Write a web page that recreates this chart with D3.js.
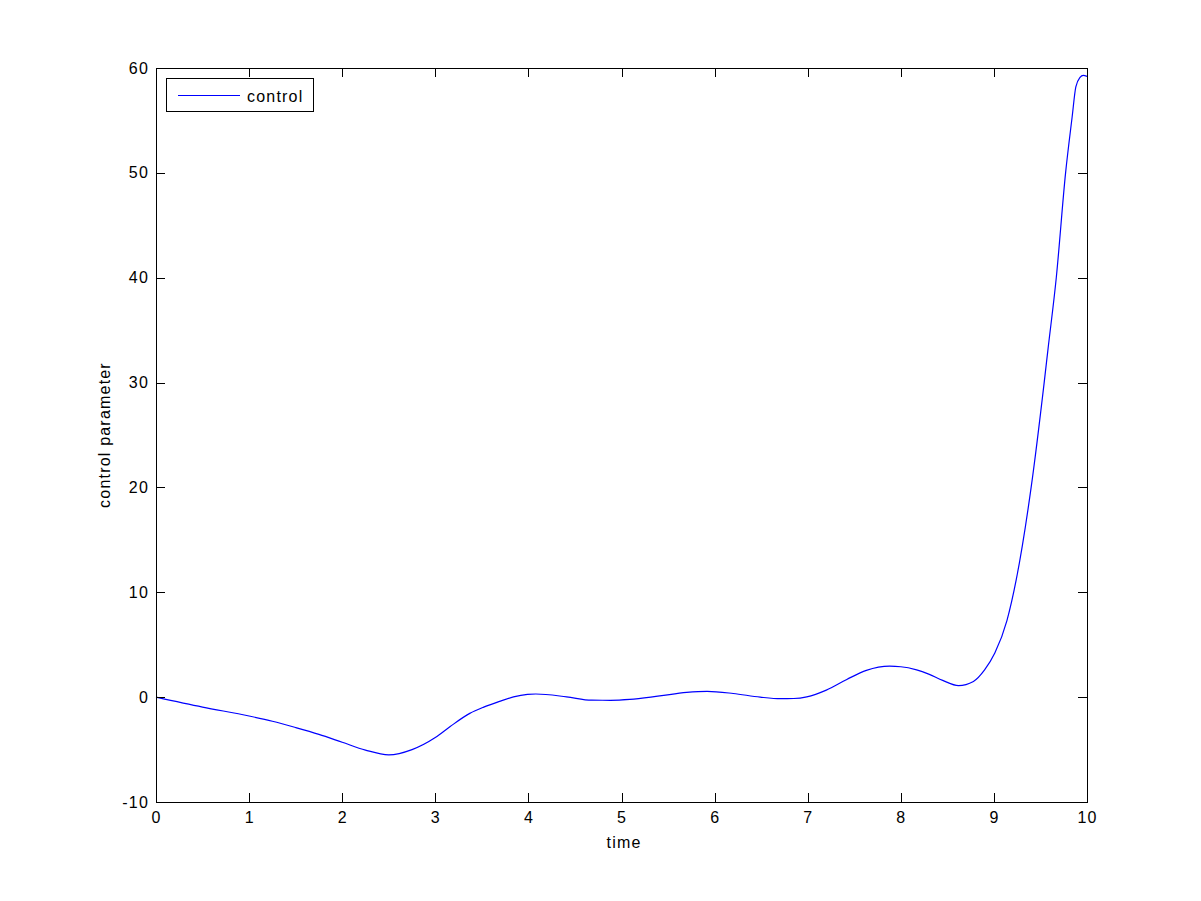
<!DOCTYPE html>
<html>
<head>
<meta charset="utf-8">
<script src="https://cdn.jsdelivr.net/npm/d3@7"></script>
<style>
  body { margin: 0; background: #fff; }
  svg { display: block; }
  text { font-family: "Liberation Sans", Arial, sans-serif; font-size: 16px; letter-spacing: 1.2px; fill: #000; }
</style>
</head>
<body>
<div id="chart"></div>
<script>
// values
const times = [0, 0.5, 1.0, 1.25, 1.5, 1.75, 2.0, 2.25, 2.5, 2.75, 3.0, 3.16, 3.37, 3.52, 3.69, 3.84, 3.99, 4.08, 4.41, 4.68, 4.88, 5.09, 5.41, 5.70, 5.92, 6.20, 6.49, 6.71, 6.85, 6.99, 7.20, 7.42, 7.63, 7.88, 8.0, 8.17, 8.30, 8.45, 8.62, 8.78, 8.90, 9.01, 9.14, 9.24, 9.40, 9.54, 9.58, 9.67, 9.77, 9.84, 9.88, 9.925, 9.96, 10.0];
const control = [0, -0.95, -1.8, -2.3, -2.9, -3.55, -4.3, -5.05, -5.5, -5.0, -3.85, -2.8, -1.55, -0.95, -0.4, 0.02, 0.26, 0.3, 0.03, -0.29, -0.3, -0.22, 0.12, 0.45, 0.55, 0.35, 0.0, -0.15, -0.13, 0.03, 0.67, 1.69, 2.55, 2.95, 2.9, 2.6, 2.2, 1.6, 1.1, 1.5, 2.6, 4.2, 7.3, 11.2, 20, 30, 33.1, 40, 50, 55.3, 58.2, 59.1, 59.3, 59.2];
const xTicks = [0, 1, 2, 3, 4, 5, 6, 7, 8, 9, 10];
const yTicks = [-10, 0, 10, 20, 30, 40, 50, 60];

const W = 1201, H = 901;
const plot = { left: 156, top: 68, right: 1087, bottom: 802 };
const tickLen = 9;

const svg = d3.select("#chart").append("svg")
    .attr("width", W)
    .attr("height", H);

const x = d3.scaleLinear().domain([0, 10]).range([plot.left, plot.right]);
const y = d3.scaleLinear().domain([-10, 60]).range([plot.bottom, plot.top]);

const data = times.map((t, i) => ({ t: t, v: control[i] }));

// curve
const line = d3.line()
    .x(d => x(d.t))
    .y(d => y(d.v))
    .curve(d3.curveMonotoneX);

svg.append("path")
    .datum(data)
    .attr("fill", "none")
    .attr("stroke", "#0000ff")
    .attr("stroke-width", 1.2)
    .attr("d", line);

// box
svg.append("rect")
    .attr("x", plot.left + 0.5)
    .attr("y", plot.top + 0.5)
    .attr("width", plot.right - plot.left)
    .attr("height", plot.bottom - plot.top)
    .attr("fill", "none")
    .attr("stroke", "#000")
    .attr("stroke-width", 1);

// ticks on all four sides, pointing inward
const ticks = svg.append("g").attr("stroke", "#000").attr("stroke-width", 1);
xTicks.forEach(t => {
    const px = Math.round(x(t)) + 0.5;
    ticks.append("line").attr("x1", px).attr("x2", px)
        .attr("y1", plot.bottom).attr("y2", plot.bottom - tickLen);
    ticks.append("line").attr("x1", px).attr("x2", px)
        .attr("y1", plot.top).attr("y2", plot.top + tickLen);
});
yTicks.forEach(v => {
    const py = Math.round(y(v)) + 0.5;
    ticks.append("line").attr("x1", plot.left).attr("x2", plot.left + tickLen)
        .attr("y1", py).attr("y2", py);
    ticks.append("line").attr("x1", plot.right).attr("x2", plot.right - tickLen)
        .attr("y1", py).attr("y2", py);
});

// tick labels
svg.append("g").selectAll("text")
    .data(xTicks)
    .join("text")
    .attr("x", d => x(d) + 0.6)
    .attr("y", plot.bottom + 21)
    .attr("text-anchor", "middle")
    .text(d => d);

svg.append("g").selectAll("text")
    .data(yTicks)
    .join("text")
    .attr("x", plot.left - 7)
    .attr("y", d => y(d))
    .attr("dy", "0.35em")
    .attr("text-anchor", "end")
    .text(d => d);

// axis titles
svg.append("text")
    .attr("x", 624)
    .attr("y", 848)
    .attr("text-anchor", "middle")
    .text("time");

svg.append("text")
    .attr("transform", `translate(110, ${(plot.top + plot.bottom) / 2}) rotate(-90)`)
    .attr("text-anchor", "middle")
    .text("control parameter");

// legend
const legend = svg.append("g");
legend.append("rect")
    .attr("x", 166.5).attr("y", 78.5)
    .attr("width", 147).attr("height", 33)
    .attr("fill", "#fff").attr("stroke", "#000");
legend.append("line")
    .attr("x1", 178).attr("x2", 240)
    .attr("y1", 95.5).attr("y2", 95.5)
    .attr("stroke", "#0000ff");
legend.append("text")
    .attr("x", 247).attr("y", 96)
    .attr("dy", "0.35em")
    .text("control");
</script>
</body>
</html>
